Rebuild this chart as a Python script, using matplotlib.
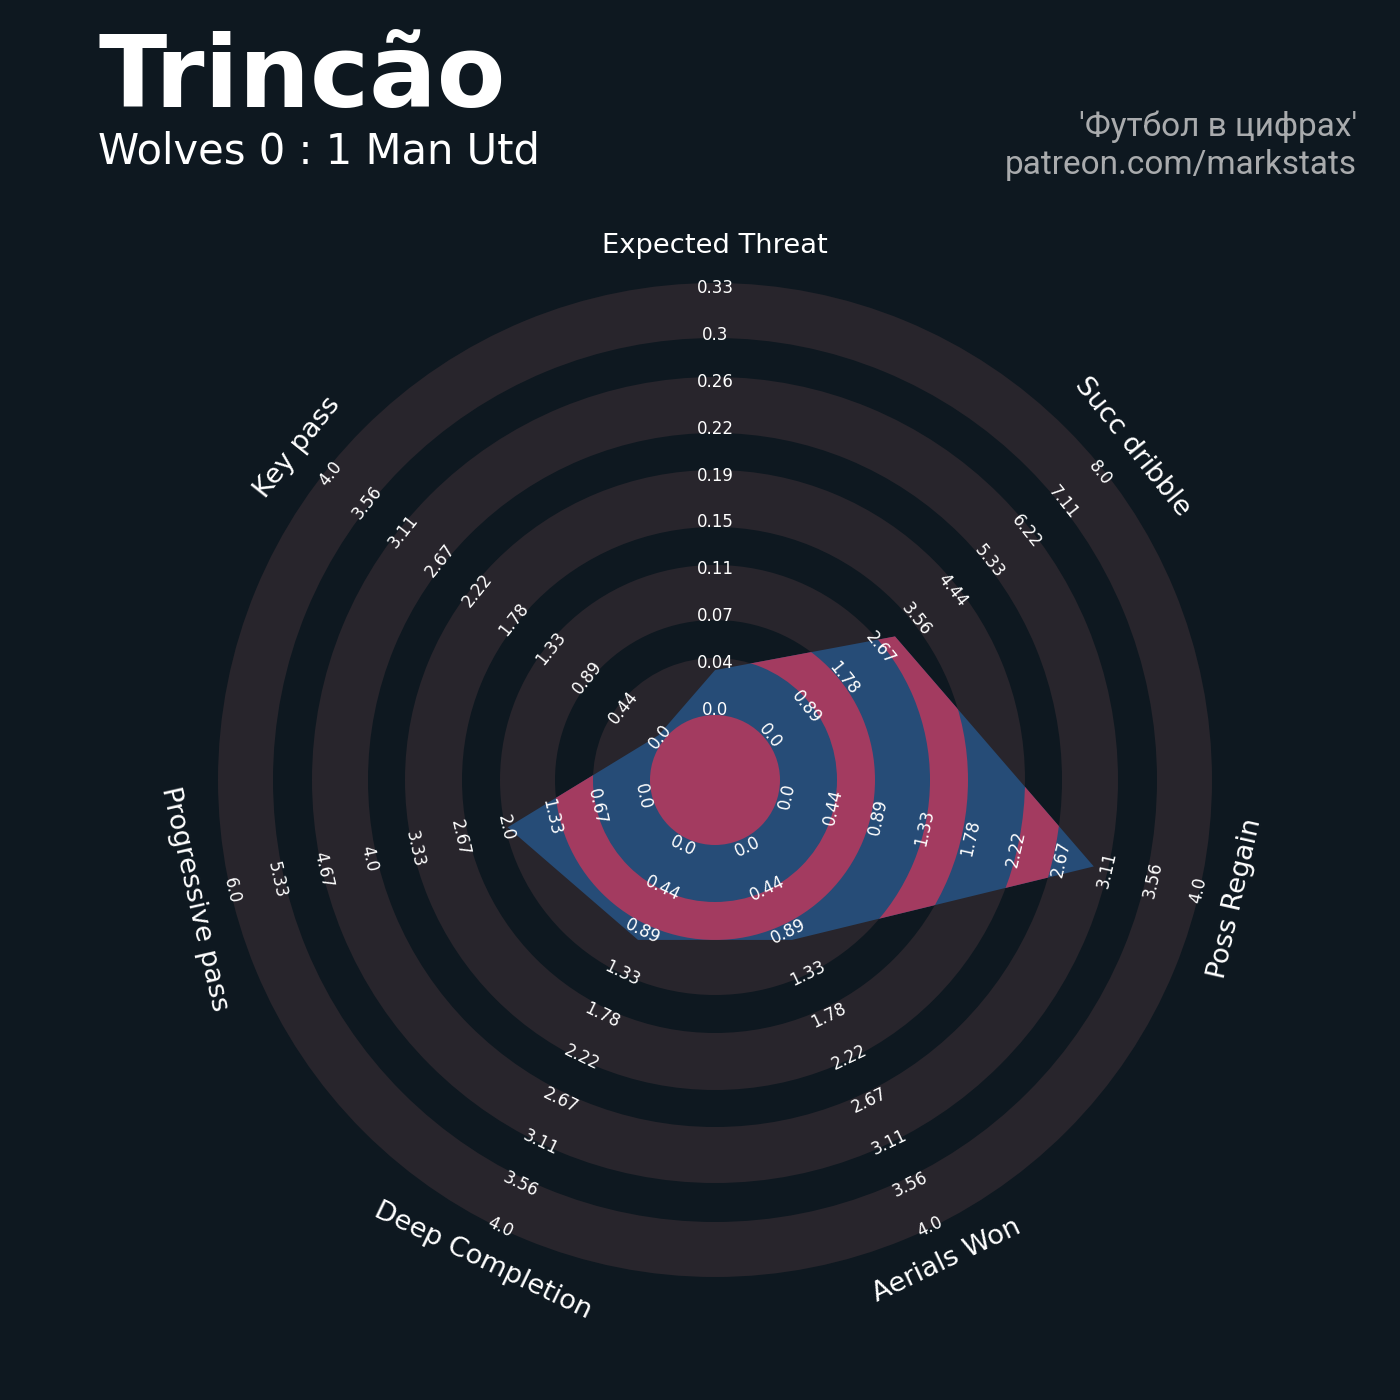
import numpy as np
import matplotlib
matplotlib.use("Agg")
import matplotlib.pyplot as plt
from matplotlib.patches import Wedge, Polygon, Circle

# ---------------- data ----------------
params = ["Expected Threat", "Succ dribble", "Poss Regain", "Aerials Won",
          "Deep Completion", "Progressive pass", "Key pass"]
low = [0.0, 0.0, 0.0, 0.0, 0.0, 0.0, 0.0]
high = [0.334, 8.0, 4.0, 4.0, 4.0, 6.0, 4.0]
values = [0.03, 3.0, 3.0, 1.0, 1.0, 2.0, 0.0]

range_labels = [
    ["0.0", "0.04", "0.07", "0.11", "0.15", "0.19", "0.22", "0.26", "0.3", "0.33"],
    ["0.0", "0.89", "1.78", "2.67", "3.56", "4.44", "5.33", "6.22", "7.11", "8.0"],
    ["0.0", "0.44", "0.89", "1.33", "1.78", "2.22", "2.67", "3.11", "3.56", "4.0"],
    ["0.0", "0.44", "0.89", "1.33", "1.78", "2.22", "2.67", "3.11", "3.56", "4.0"],
    ["0.0", "0.44", "0.89", "1.33", "1.78", "2.22", "2.67", "3.11", "3.56", "4.0"],
    ["0.0", "0.67", "1.33", "2.0", "2.67", "3.33", "4.0", "4.67", "5.33", "6.0"],
    ["0.0", "0.44", "0.89", "1.33", "1.78", "2.22", "2.67", "3.11", "3.56", "4.0"],
]

title = "Trincão"
subtitle = "Wolves 0 : 1 Man Utd"
credit1 = "'Футбол в цифрах'"
credit2 = "patreon.com/markstats"

# ---------------- style ----------------
BG = '#0e1820'
RING = '#28252c'
BLUE = '#264c77'
PINK = '#a33b60'

fig = plt.figure(figsize=(14, 14), dpi=100, facecolor=BG)
ax = fig.add_axes([0, 0, 1, 1])
ax.set_xlim(-715, 685)
ax.set_ylim(-620, 780)
ax.set_aspect('equal')
ax.axis('off')
ax.set_facecolor(BG)

R0, R1 = 72, 494          # radius of min / max value
ring_edges = [0, 65, 122, 160, 215, 253, 310, 347, 403, 442, 497]

n = len(params)
theta = np.arange(n) * 2 * np.pi / n  # clockwise from top


def pol(r, t):
    return r * np.sin(t), r * np.cos(t)


# grey rings
for i in range(len(ring_edges) - 1):
    rin, rout = ring_edges[i], ring_edges[i + 1]
    if i % 2 == 1:
        ax.add_patch(Wedge((0, 0), rout, 0, 360, width=rout - rin,
                           facecolor=RING, edgecolor='none', zorder=1))

# radar polygon
radii = [R0 + (v - lo) / (hi - lo) * (R1 - R0) for v, lo, hi in zip(values, low, high)]
verts = [pol(r, t) for r, t in zip(radii, theta)]
poly = Polygon(verts, closed=True, facecolor=BLUE, edgecolor='none', zorder=2)
ax.add_patch(poly)

# pink bands inside polygon
for i in range(len(ring_edges) - 1):
    rin, rout = ring_edges[i], ring_edges[i + 1]
    if i % 2 == 0:
        if rin == 0:
            p = Circle((0, 0), rout, facecolor=PINK, edgecolor='none', zorder=3)
        else:
            p = Wedge((0, 0), rout, 0, 360, width=rout - rin,
                      facecolor=PINK, edgecolor='none', zorder=3)
        ax.add_patch(p)
        p.set_clip_path(poly)


def rot_for(t):
    d = np.degrees(t)
    r = -d
    if 90 < d < 270:
        r += 180
    return r


# range labels
nl = len(range_labels[0])
for j in range(n):
    rot = rot_for(theta[j])
    for k, lab in enumerate(range_labels[j]):
        r = R0 + k * (R1 - R0) / (nl - 1)
        x, y = pol(r, theta[j])
        ax.text(x, y, lab, rotation=rot, rotation_mode='anchor', ha='center',
                va='center_baseline', fontsize=12, color='white', zorder=5)

# parameter labels
for j in range(n):
    x, y = pol(534, theta[j])
    ax.text(x, y, params[j], rotation=rot_for(theta[j]), rotation_mode='anchor',
            ha='center', va='center', fontsize=19.7, color='white', zorder=5)

# titles
fig.text(0.07, 1 - 107 / 1400, title, fontsize=72, fontweight='bold',
         color='white', va='baseline', ha='left')
fig.text(0.07, 1 - 164 / 1400, subtitle, fontsize=30, color='white',
         va='baseline', ha='left')
fig.text(0.9693, 1 - 136 / 1400, credit1, fontsize=24, color='#a9abad',
         family=['Roboto', 'DejaVu Sans'], va='baseline', ha='right')
fig.text(0.9693, 1 - 174 / 1400, credit2, fontsize=24, color='#a9abad',
         family=['Roboto', 'DejaVu Sans'], va='baseline', ha='right')

fig.savefig('out.png', dpi=100, facecolor=BG)
